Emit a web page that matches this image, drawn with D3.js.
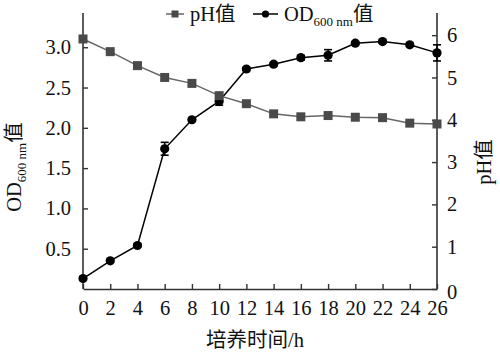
<!DOCTYPE html>
<html><head><meta charset="utf-8">
<script src="https://cdn.jsdelivr.net/npm/d3@7"></script>
<style>body{margin:0;background:#fff}svg{display:block}
text{font-family:"Liberation Serif","Times New Roman","Noto Sans CJK SC",serif !important;}</style>
</head><body>
<script>
const hours = [0,2,4,6,8,10,12,14,16,18,20,22,24,26];
const pH = [5.91,5.61,5.28,5.00,4.86,4.57,4.38,4.14,4.07,4.10,4.06,4.05,3.92,3.90];
const od = [0.13,0.35,0.54,1.74,2.10,2.33,2.73,2.79,2.87,2.90,3.05,3.07,3.03,2.93];
const odErr = [0.02,0.02,0.02,0.08,0.02,0.05,0.02,0.02,0.03,0.07,0.02,0.02,0.02,0.10];
const xTicks = [0,2,4,6,8,10,12,14,16,18,20,22,24,26];
const leftTicks = [0.5,1.0,1.5,2.0,2.5,3.0];
const rightTicks = [0,1,2,3,4,5,6];

const W=500,H=358, FS=20.5;
const svg = d3.select("body").append("svg").attr("width",W).attr("height",H);
svg.append("rect").attr("width",W).attr("height",H).attr("fill","#fff");

const x = d3.scaleLinear().domain([0,26]).range([83,437]);
const yL = d3.scaleLinear().domain([0,3.4]).range([289,15]);
const yR = d3.scaleLinear().domain([0,6.5]).range([289,14]);

const axisColor="#333";
const gx = svg.append("g").attr("transform","translate(0,289)")
  .call(d3.axisBottom(x).tickValues(xTicks).tickSizeInner(-5).tickSizeOuter(0).tickPadding(12));
const gl = svg.append("g").attr("transform","translate(83,0)")
  .call(d3.axisLeft(yL).tickValues(leftTicks).tickFormat(d3.format(".1f")).tickSizeInner(-5).tickSizeOuter(0).tickPadding(12));
const gr = svg.append("g").attr("transform","translate(437,0)")
  .call(d3.axisRight(yR).tickValues(rightTicks).tickFormat(d3.format("d")).tickSizeInner(-5).tickSizeOuter(0).tickPadding(10));
[gx,gl,gr].forEach(g=>{
  g.select(".domain").attr("stroke",axisColor).attr("stroke-width",1.6);
  g.selectAll(".tick line").attr("stroke",axisColor).attr("stroke-width",1.4);
  g.selectAll("text").attr("font-size",FS).attr("fill","#111");
});
gl.select(".domain").attr("d","M0,289V13");
gr.select(".domain").attr("d","M0,289V13");
gx.selectAll("text").attr("dy","0.68em");
gr.selectAll(".tick").filter(d=>d===0).select("text").attr("dy","0.45em");

// OD series
const odColor="#000";
svg.append("path").datum(hours.map((h,i)=>[h,od[i]]))
  .attr("fill","none").attr("stroke",odColor).attr("stroke-width",1.5)
  .attr("d",d3.line().x(d=>x(d[0])).y(d=>yL(d[1])));
const eb = svg.append("g").attr("stroke",odColor).attr("stroke-width",1.6);
hours.forEach((h,i)=>{
  const cx=x(h), t=yL(od[i]+odErr[i]), b=yL(od[i]-odErr[i]);
  eb.append("line").attr("x1",cx).attr("x2",cx).attr("y1",t).attr("y2",b);
  eb.append("line").attr("x1",cx-4).attr("x2",cx+4).attr("y1",t).attr("y2",t);
  eb.append("line").attr("x1",cx-4).attr("x2",cx+4).attr("y1",b).attr("y2",b);
});
svg.append("g").selectAll("circle").data(hours).join("circle")
  .attr("cx",(h)=>x(h)).attr("cy",(h,i)=>yL(od[i])).attr("r",4.6).attr("fill",odColor);

// pH series
const phLine="#666", phFill="#4a4a4a";
svg.append("path").datum(hours.map((h,i)=>[h,pH[i]]))
  .attr("fill","none").attr("stroke",phLine).attr("stroke-width",1.5)
  .attr("d",d3.line().x(d=>x(d[0])).y(d=>yR(d[1])));
svg.append("g").selectAll("rect").data(hours).join("rect")
  .attr("x",h=>x(h)-4.5).attr("y",(h,i)=>yR(pH[i])-4.5).attr("width",9).attr("height",9).attr("fill",phFill);

// legend
const lg = svg.append("g");
lg.append("line").attr("x1",166).attr("x2",184).attr("y1",14).attr("y2",14).attr("stroke",phLine).attr("stroke-width",1.5);
lg.append("rect").attr("x",171.5).attr("y",10.5).attr("width",7).attr("height",7).attr("fill",phFill);
lg.append("text").attr("x",190).attr("y",21).attr("font-size",FS).attr("fill","#111").text("pH值");
lg.append("line").attr("x1",253).attr("x2",278).attr("y1",14).attr("y2",14).attr("stroke",odColor).attr("stroke-width",1.5);
lg.append("circle").attr("cx",265.5).attr("cy",14).attr("r",3.6).attr("fill",odColor);
const lt = lg.append("text").attr("x",284).attr("y",21).attr("font-size",FS).attr("fill","#111");
lt.append("tspan").text("OD");
lt.append("tspan").attr("font-size",13).attr("dy",5).text("600 nm");
lt.append("tspan").attr("dy",-5).text("值");

// axis titles
svg.append("text").attr("x",255).attr("y",347).attr("text-anchor","middle")
  .attr("font-size",FS).attr("fill","#111").text("培养时间/h");
const yt = svg.append("text").attr("transform","translate(21,167) rotate(-90)").attr("text-anchor","middle")
  .attr("font-size",FS).attr("fill","#111");
yt.append("tspan").text("OD");
yt.append("tspan").attr("font-size",13).attr("dy",5).text("600 nm");
yt.append("tspan").attr("dy",-5).text("值");
svg.append("text").attr("transform","translate(491,162) rotate(-90)").attr("text-anchor","middle")
  .attr("font-size",FS).attr("fill","#111").text("pH值");
</script>
</body></html>
